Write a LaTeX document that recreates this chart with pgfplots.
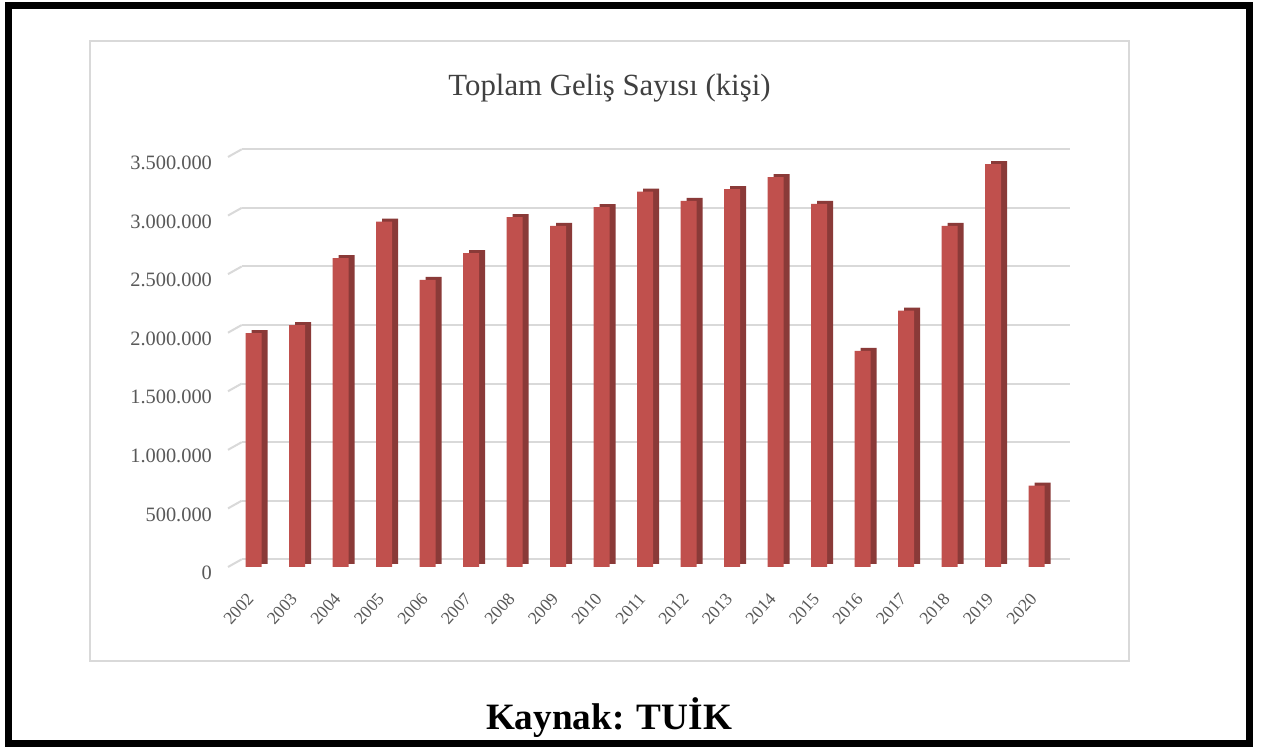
\documentclass[border=0pt]{standalone}
\usepackage{pgfplots}
\usepackage{pgfplotstable}
\pgfplotsset{compat=1.18}
\usepackage{fontspec}
\setmainfont{Liberation Serif}
\definecolor{barred}{HTML}{C0504D}
\definecolor{barside}{HTML}{8A3A38}
\definecolor{gridcol}{HTML}{D9D9D9}
\definecolor{labcol}{HTML}{595959}
\definecolor{titcol}{HTML}{404040}
\pgfplotstableread{
x val
0 1996000
1 2064000
2 2636000
3 2949000
4 2451000
5 2679000
6 2986000
7 2912000
8 3072000
9 3205000
10 3126000
11 3225000
12 3328000
13 3100000
14 1845000
15 2189000
16 2912000
17 3439000
18 694000
}\datatable
\begin{document}
\begin{tikzpicture}
\begin{scope}[x=0.5pt,y=0.5pt]
\useasboundingbox (0,0) rectangle (1262,747);
\fill[white] (0,0) rectangle (1262,747);
\draw[black, line width=3.5pt] (8.5,741.5) rectangle (1249,3.5);
\draw[gridcol, line width=1pt] (90,706) rectangle (1129,86.3);
\node[titcol, font=\fontsize{15.4}{18}\selectfont] at (609.5,659) {Toplam Geliş Sayısı (kişi)};
\node[black, font=\fontsize{18.6}{22}\selectfont\bfseries] at (609,29) {Kaynak: TUİK};
\end{scope}
\begin{axis}[
  at={(114pt,90pt)}, anchor=south west,
  scale only axis, width=414.15pt, height=205pt,
  xmin=-0.59, xmax=18.45, ymin=0, ymax=3500000,
  axis line style={draw=none}, tick style={draw=none},
  ytick={0,500000,1000000,1500000,2000000,2500000,3000000,3500000},
  ymajorgrids,
  major grid style={gridcol, line width=1pt, xshift=6.85pt, yshift=3.85pt},
  scaled y ticks=false,
  yticklabel style={/pgf/number format/fixed, /pgf/number format/1000 sep={.},
    /pgf/number format/assume math mode=true,
    font=\fontsize{10.2}{12}\selectfont, text=labcol, xshift=-4.5pt, yshift=-3pt},
  xtick={0,1,2,3,4,5,6,7,8,9,10,11,12,13,14,15,16,17,18},
  xticklabels={2002,2003,2004,2005,2006,2007,2008,2009,2010,2011,2012,2013,2014,2015,2016,2017,2018,2019,2020},
  xticklabel style={xshift=0.7pt, yshift=-11.7pt, rotate=48, anchor=east, font=\fontsize{8.8}{10}\selectfont, text=labcol},
  clip=false,
]
\pgfplotsinvokeforeach{0,500000,1000000,1500000,2000000,2500000,3000000,3500000}{
  \draw[gridcol, line width=1pt] (axis cs:-0.59,#1) -- ++(6.85pt,3.85pt);
}
\addplot[ybar, bar width=8pt, bar shift=3pt, fill=barside, draw=none, yshift=1.5pt] table[x=x,y=val] {\datatable};
\addplot[ybar, bar width=8pt, bar shift=0pt, fill=barred, draw=none] table[x=x,y=val] {\datatable};
\end{axis}
\end{tikzpicture}
\end{document}
